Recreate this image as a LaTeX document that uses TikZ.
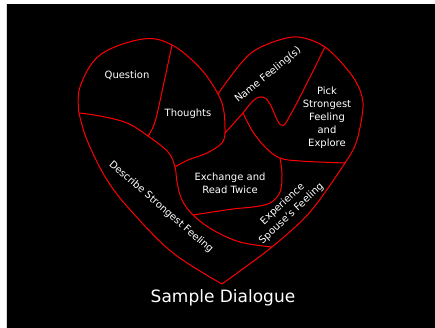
\documentclass[tikz,border=0pt]{standalone}
\usepackage{fontspec}
\setmainfont{DejaVu Sans}
\begin{document}
\begin{tikzpicture}[x=1pt,y=-1pt,
  edge/.style={draw=red, line width=1pt, line join=round},
  lbl/.style={text=white, font=\fontsize{10}{13}\selectfont, align=center, inner sep=0pt},
  ttl/.style={text=white, font=\fontsize{17}{20}\selectfont, inner sep=0pt}]
\useasboundingbox (0,0) rectangle (435,328);
\fill[white] (0,0) rectangle (435,328);
\fill[black] (7,4) rectangle (435,328);
\draw[black!15, line width=0.8pt] (6,4) -- (6,328);
% junctions
\coordinate (T) at (222,284);
\coordinate (L) at (79,113);
\coordinate (A) at (172,45);
\coordinate (B) at (148,136);
\coordinate (C) at (218,94);
\coordinate (D) at (225,133);
\coordinate (E) at (175,167);
\coordinate (F) at (243,113);
\coordinate (G) at (325,47);
\coordinate (H) at (345,163);
\coordinate (I) at (280,158);
\coordinate (J) at (193,215);
\coordinate (K) at (272,247);
% outline
\draw[edge] plot[smooth, tension=0.6] coordinates {(L) (80,87) (100,55) (143,39) (A) (200,68) (C) (224,112) (D)};
\draw[edge] plot[smooth, tension=0.6] coordinates {(L) (87,140) (107,180) (133,213) (173,253) (T)};
\draw[edge] plot[smooth, tension=0.5] coordinates {(T) (K) (310,212) (H) (357,140) (363,103) (353,77) (G) (293,37) (251,53) (C)};
% inner lines
\draw[edge] plot[smooth, tension=0.6] coordinates {(A) (163,87) (155,122) (B)};
\draw[edge] plot[smooth, tension=0.6] coordinates {(L) (100,116) (127,123) (B) (168,152) (E) (177,182) (182,200) (J) (213,230) (240,242) (K)};
\draw[edge] plot[smooth, tension=0.6] coordinates {(D) (222,143) (207,153) (188,160) (E)};
\draw[edge] (D) -- (F);
\draw[edge] plot[smooth, tension=0.6] coordinates {(F) (254,100) (263,97) (270,104) (281,125) (292,112) (G)};
\draw[edge] plot[smooth, tension=0.6] coordinates {(F) (253,132) (266,148) (I) (300,161) (H)};
\draw[edge] plot[smooth, tension=0.6] coordinates {(I) (282,174) (280,192) (270,203) (253,207) (233,209) (J)};
% labels
\node[lbl] (q) at (127,75) {Question};
\node[lbl] (th) at (188,114) {Thoughts};
\node[lbl, rotate=39] (nf) at (268,75) {Name Feeling(s)};
\node[lbl] (pk) at (327,118) {Pick\\Strongest\\Feeling\\and\\Explore};
\node[lbl] (ex) at (230,183) {Exchange and\\Read Twice};
\node[lbl, rotate=-41] (ds) at (161,207) {Describe Strongest Feeling};
\node[lbl, rotate=43] (sp) at (287,209) {Experience\\Spouse's Feeling};
\node[ttl] (sd) at (223,298) {Sample Dialogue};
\end{tikzpicture}
\end{document}
